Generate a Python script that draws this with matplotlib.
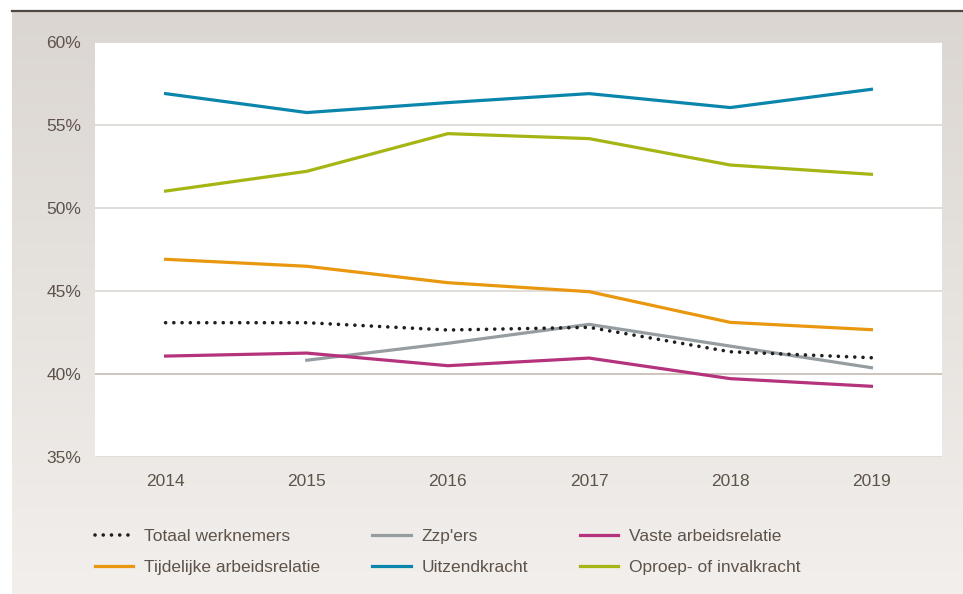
import numpy as np
import matplotlib
matplotlib.use("Agg")
import matplotlib.pyplot as plt
from matplotlib.colors import LinearSegmentedColormap
from matplotlib.ticker import FuncFormatter

years = ["2014", "2015", "2016", "2017", "2018", "2019"]
totaal = [43.09, 43.09, 42.65, 42.81, 41.34, 40.98]
zzp = [None, 40.83, 41.85, 42.99, 41.68, 40.38]
vaste = [41.08, 41.26, 40.50, 40.96, 39.72, 39.26]
tijdelijk = [46.91, 46.49, 45.50, 44.96, 43.11, 42.67]
uitzend = [56.89, 55.75, 56.35, 56.89, 56.05, 57.15]
oproep = [51.02, 52.21, 54.48, 54.18, 52.59, 52.03]
yticks = [35, 40, 45, 50, 55, 60]

plt.rcParams['font.family'] = ['Liberation Sans', 'DejaVu Sans']
txt = '#5e534b'

fig = plt.figure(figsize=(9.63, 5.94), dpi=100)
fig.patch.set_facecolor('white')

# background panel with gradient
bg = fig.add_axes([12/963, 0, 1 - 12/963, (594 - 11)/594], zorder=0)
cmap = LinearSegmentedColormap.from_list('bg', ['#dbd6d1', '#f2efec'])
grad = np.linspace(0, 1, 256).reshape(-1, 1)
bg.imshow(grad, aspect='auto', cmap=cmap, extent=[0, 1, 0, 1], origin='upper')
bg.set_xlim(0, 1); bg.set_ylim(0, 1)
bg.axis('off')
bg.axhline(1, color='#4f4843', lw=1.6, clip_on=False)

ax = fig.add_axes([95/963, (594-457)/594, (942-95)/963, (457-42)/594], zorder=1)
ax.set_facecolor('white')
x = np.arange(len(years))

lw = 2.3
l_tot, = ax.plot(x, totaal, color='#1e1e1e', lw=2.6, linestyle=(0, (0.01, 2.27)),
                 dash_capstyle='round', label='Totaal werknemers', zorder=5)
zx = [i for i, v in enumerate(zzp) if v is not None]
zy = [v for v in zzp if v is not None]
l_zzp, = ax.plot(zx, zy, color='#959da1', lw=lw, label="Zzp'ers", zorder=4)
l_vas, = ax.plot(x, vaste, color='#b5327c', lw=lw, label='Vaste arbeidsrelatie', zorder=4)
l_tij, = ax.plot(x, tijdelijk, color='#e8970e', lw=lw, label='Tijdelijke arbeidsrelatie', zorder=4)
l_uit, = ax.plot(x, uitzend, color='#0a86ad', lw=lw, label='Uitzendkracht', zorder=4)
l_opr, = ax.plot(x, oproep, color='#a5b514', lw=lw, label='Oproep- of invalkracht', zorder=4)

ax.set_xlim(-0.5, 5.5)
ax.set_ylim(35, 60)
ax.set_yticks(yticks)
ax.yaxis.set_major_formatter(FuncFormatter(lambda v, p: f"{v:.0f}%"))
ax.set_xticks(x)
ax.set_xticklabels(years)
for t in yticks:
    c = '#cbbfb6' if t == 40 else '#dedad6'
    ax.axhline(t, color=c, lw=1.3, zorder=1)
for s in ax.spines.values():
    s.set_visible(False)
ax.tick_params(axis='both', length=0, colors=txt, labelsize=12.5)
ax.tick_params(axis='y', pad=10)
ax.tick_params(axis='x', pad=12, labelsize=12.5)

handles = [l_tot, l_tij, l_zzp, l_uit, l_vas, l_opr]
leg = fig.legend(handles=handles, labels=[h.get_label() for h in handles],
                 ncol=3, loc='upper left', bbox_to_anchor=(95/963, 1 - 529/594),
                 frameon=False, fontsize=12.5, handlelength=2.2, handletextpad=0.63,
                 columnspacing=3.0, labelspacing=0.9, borderaxespad=0, borderpad=0)
for t in leg.get_texts():
    t.set_color(txt)

fig.savefig('out.png', dpi=100)
